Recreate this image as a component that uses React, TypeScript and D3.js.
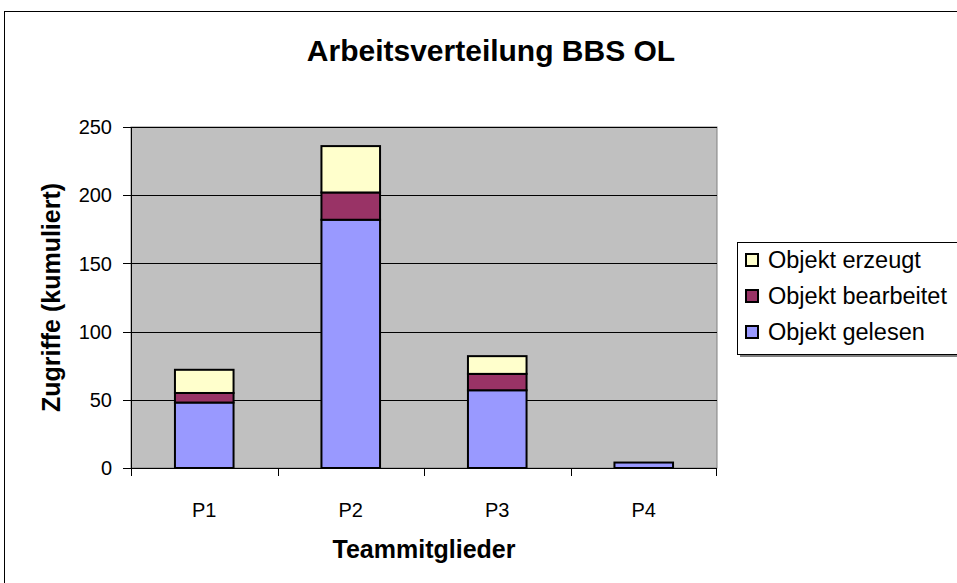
import * as d3 from 'd3';

const categories = ['P1', 'P2', 'P3', 'P4'];
const seriesNames = ['Objekt gelesen', 'Objekt bearbeitet', 'Objekt erzeugt'];
const gelesen = [48, 182, 57, 4];
const bearbeitet = [7, 20, 12, 0];
const erzeugt = [17, 34, 13, 0];
const yTicks = [0, 50, 100, 150, 200, 250];

const colors = ['#9999FF', '#993366', '#FFFFCC'];
const font = 'Liberation Sans, Arial, sans-serif';

export default function App() {
  const W = 957;
  const H = 583;
  const margin = { top: 127, right: 240, bottom: 115, left: 131 };
  const x0 = margin.left;
  const x1 = W - margin.right;
  const y0 = H - margin.bottom;
  const y1 = margin.top;

  const x = d3.scaleBand().domain(categories).range([x0, x1]).paddingInner(0.6).paddingOuter(0.3);
  const xb = d3.scaleBand().domain(categories).range([x0, x1]);
  const y = d3.scaleLinear().domain([0, 250]).range([y0, y1]);

  const rows = categories.map((c, i) => ({ cat: c, v0: gelesen[i], v1: bearbeitet[i], v2: erzeugt[i] }));
  const stack = d3.stack<any>().keys(['v0', 'v1', 'v2'])(rows);

  // legend in reverse order, like the original
  const legendItems = [2, 1, 0];

  return (
    <svg width={W} height={H} style={{ position: 'absolute', left: 0, top: 0, display: 'block' }} fontFamily={font}>
      <rect x={0} y={0} width={W} height={H} fill="#fff" />
      <rect x={4.5} y={11.5} width={W + 10} height={H + 10} fill="none" stroke="#000" strokeWidth={1} />

      <text x={491} y={61} textAnchor="middle" fontSize={30} fontWeight="bold">Arbeitsverteilung BBS OL</text>

      {/* plot area */}
      <rect x={x0} y={y1} width={x1 - x0} height={y0 - y1} fill="#C0C0C0" stroke="#808080" strokeWidth={1} />
      {yTicks.filter(t => t > 0).map(t => (
        <line key={t} x1={x0} x2={x1} y1={Math.round(y(t)) + 0.5} y2={Math.round(y(t)) + 0.5} stroke="#000" strokeWidth={1} />
      ))}

      {/* bars */}
      {stack.map((layer, li) => (
        <g key={li}>
          {layer.map((d, i) => {
            const h = y(d[0]) - y(d[1]);
            if (h <= 0) return null;
            return (
              <rect key={i} x={x(categories[i])!} y={y(d[1])} width={x.bandwidth()} height={h}
                fill={colors[li]} stroke="#000" strokeWidth={2} />
            );
          })}
        </g>
      ))}

      {/* y axis */}
      <line x1={x0 + 0.5} x2={x0 + 0.5} y1={y1} y2={y0} stroke="#000" strokeWidth={1} />
      {yTicks.map(t => (
        <g key={t}>
          <line x1={x0 - 8} x2={x0} y1={Math.round(y(t)) + 0.5} y2={Math.round(y(t)) + 0.5} stroke="#000" />
          <text x={x0 - 19} y={y(t)} dy="0.36em" textAnchor="end" fontSize={20}>{t}</text>
        </g>
      ))}

      {/* x axis */}
      <line x1={x0} x2={x1} y1={y0 + 0.5} y2={y0 + 0.5} stroke="#000" strokeWidth={1} />
      {categories.map(c => (
        <line key={'t' + c} x1={Math.round(xb(c)!) + 0.5} x2={Math.round(xb(c)!) + 0.5} y1={y0} y2={y0 + 8} stroke="#000" />
      ))}
      <line x1={x1 - 0.5} x2={x1 - 0.5} y1={y0} y2={y0 + 8} stroke="#000" />
      {categories.map(c => (
        <text key={c} x={xb(c)! + xb.bandwidth() / 2} y={517} textAnchor="middle" fontSize={20}>{c}</text>
      ))}

      <text x={(x0 + x1) / 2} y={558} textAnchor="middle" fontSize={25} fontWeight="bold">Teammitglieder</text>
      <text transform={`translate(60,${(y0 + y1) / 2}) rotate(-90)`} textAnchor="middle" fontSize={25} fontWeight="bold">Zugriffe (kumuliert)</text>

      {/* legend */}
      <rect x={740} y={245} width={230} height={112} fill="#808080" />
      <rect x={737.5} y={242.5} width={230} height={112} fill="#fff" stroke="#000" strokeWidth={1} />
      {legendItems.map((si, k) => {
        const cy = 260 + k * 36;
        return (
          <g key={si}>
            <rect x={746} y={cy - 6} width={12} height={12} fill={colors[si]} stroke="#000" strokeWidth={2} />
            <text x={768} y={cy} dy="0.36em" fontSize={23.5}>{seriesNames[si]}</text>
          </g>
        );
      })}
    </svg>
  );
}
